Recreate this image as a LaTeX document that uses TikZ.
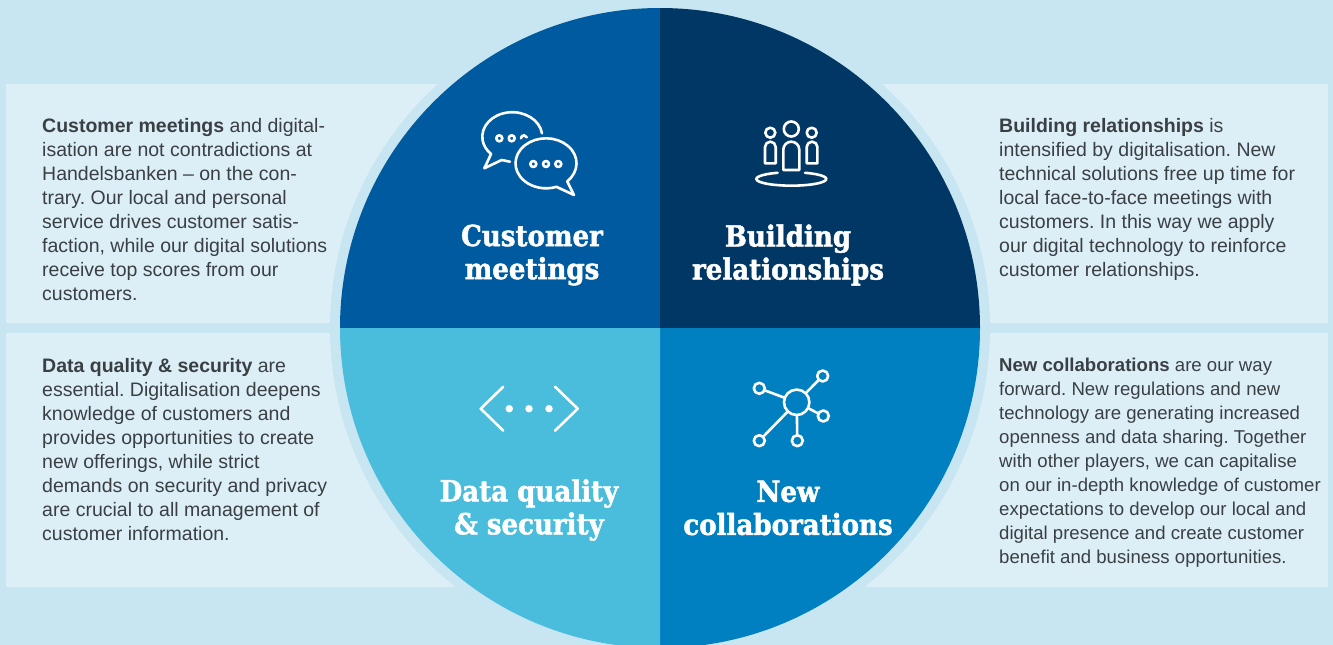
\documentclass[tikz,border=0pt]{standalone}
\usepackage{fontspec}
\setmainfont{Liberation Sans}
\newfontfamily\headfont[BoldFeatures={FakeBold=1.6}]{DejaVu Serif Condensed}
\definecolor{skybg}{HTML}{C8E6F1}
\definecolor{panelbg}{HTML}{DCEFF7}
\definecolor{custblue}{HTML}{005AA0}
\definecolor{relblue}{HTML}{003764}
\definecolor{datablue}{HTML}{4ABCDC}
\definecolor{collabblue}{HTML}{0080C0}
\definecolor{bodygray}{HTML}{3A3F44}
\tikzset{panel/.style={fill=panelbg,draw=none},
         bodytext/.style={anchor=north west,inner sep=0pt,align=left,text=bodygray,
           font=\frenchspacing\fontsize{#1}{24}\selectfont},
         headtext/.style={inner sep=0pt,align=center,text=white,
           font=\headfont\bfseries\fontsize{29}{33}\selectfont},
         icon/.style={draw=white,line width=2.6pt,line cap=round,line join=round},
         hub/.style={icon,circle,inner sep=0pt,minimum size=25.4pt},
         sat/.style={icon,circle,inner sep=0pt,minimum size=11pt},
         dot/.style={fill=white,circle,inner sep=0pt,minimum size=7.5pt}}

\begin{document}
\begin{tikzpicture}[x=1pt,y=-1pt]
\clip (0,0) rectangle (1333,645);
\fill[skybg] (0,0) rectangle (1333,645);
% panels
\fill[panel] (6,84) rectangle (1328,323);
\fill[panel] (6,333) rectangle (1328,587);
% disc
\coordinate (mid) at (660,328);
\fill[skybg] (mid) circle[radius=330pt];
\fill[custblue] (mid) -- (340,328) arc[start angle=180,end angle=90,radius=320pt] -- cycle;
\fill[relblue] (mid) -- (660,8) arc[start angle=90,end angle=0,radius=320pt] -- cycle;
\fill[collabblue] (mid) -- (980,328) arc[start angle=0,end angle=-90,radius=320pt] -- cycle;
\fill[datablue] (mid) -- (660,648) arc[start angle=-90,end angle=-180,radius=320pt] -- cycle;
% side texts
\node[bodytext=19.5] (custtext) at (42,118) {\textbf{Customer meetings} and digital-\\
  isation are not contradictions at\\
  Handelsbanken -- on the con-\\
  trary. Our local and personal\\
  service drives customer satis-\\
  faction, while our digital solutions\\
  receive top scores from our\\
  customers.};
\node[bodytext=19.5] (reltext) at (999,118) {\textbf{Building relationships} is\\
  intensified by digitalisation. New\\
  technical solutions free up time for\\
  local face-to-face meetings with\\
  customers. In this way we apply\\
  our digital technology to reinforce\\
  customer relationships.};
\node[bodytext=19.5] (datatext) at (42,358) {\textbf{Data quality \& security} are\\
  essential. Digitalisation deepens\\
  knowledge of customers and\\
  provides opportunities to create\\
  new offerings, while strict\\
  demands on security and privacy\\
  are crucial to all management of\\
  customer information.};
\node[bodytext=18.6] (collabtext) at (999,358) {\textbf{New collaborations} are our way\\
  forward. New regulations and new\\
  technology are generating increased\\
  openness and data sharing. Together\\
  with other players, we can capitalise\\
  on our in-depth knowledge of customer\\
  expectations to develop our local and\\
  digital presence and create customer\\
  benefit and business opportunities.};
% headings
\node[headtext] (custhead) at (532,255) {Customer\\meetings};
\node[headtext] (relhead) at (788,255) {Building\\relationships};
\node[headtext] (datahead) at (529,510) {Data quality\\\& security};
\node[headtext] (collabhead) at (788,508) {New\\collaborations};
% chat icon
\draw[icon] (542,133.3) arc[start angle=8,end angle=225,x radius=30pt,y radius=24.5pt]
  -- (484.3,168.3) -- (501.7,160) -- (510,161.7);
\draw[icon] (567.2,181.3) arc[start angle=-46,end angle=290,x radius=30.5pt,y radius=25pt]
  -- (574,195) -- cycle;
\foreach \px/\py in {499.3/138.3,511.7/138.3,533.3/164,546/164,558.3/164}
  \draw[icon] (\px,\py) circle[radius=3pt];
\draw[icon] (521,138.3) arc[start angle=180,end angle=20,radius=3pt];
% people icon
\draw[icon] (791.3,129) circle[radius=7.5pt];
\draw[icon] (770.3,132.7) circle[radius=5pt];
\draw[icon] (811.7,132.7) circle[radius=5pt];
\draw[icon] (783.3,170) -- (783.3,149.7) arc[start angle=180,end angle=0,radius=8pt] -- (799.3,170) -- cycle;
\draw[icon] (765,163.3) -- (765,147) arc[start angle=180,end angle=0,radius=5.35pt] -- (775.7,163.3) -- cycle;
\draw[icon] (806.7,163.3) -- (806.7,147) arc[start angle=180,end angle=0,radius=5.35pt] -- (817.4,163.3) -- cycle;
\draw[icon] (805,172.8) arc[start angle=67,end angle=-247,x radius=35pt,y radius=6.7pt];
% code icon
\draw[icon] (503.3,386.7) -- (480.7,408.7) -- (503.3,430.7);
\draw[icon] (555,386.7) -- (577.7,408.7) -- (555,430.7);
\node[dot] (dota) at (509.3,408.7) {};
\node[dot] (dotb) at (529,408.7) {};
\node[dot] (dotc) at (549,408.7) {};
% network icon
\node[hub] (hubnode) at (796.7,402.3) {};
\node[sat] (sata) at (822.7,376) {};
\node[sat] (satb) at (759.3,388.3) {};
\node[sat] (satc) at (823.3,416) {};
\node[sat] (satd) at (759.3,440.7) {};
\node[sat] (sate) at (797.3,440.7) {};
\foreach \s in {sata,satb,satc,satd,sate}
  \draw[icon] (hubnode) -- (\s);
\end{tikzpicture}
\end{document}
